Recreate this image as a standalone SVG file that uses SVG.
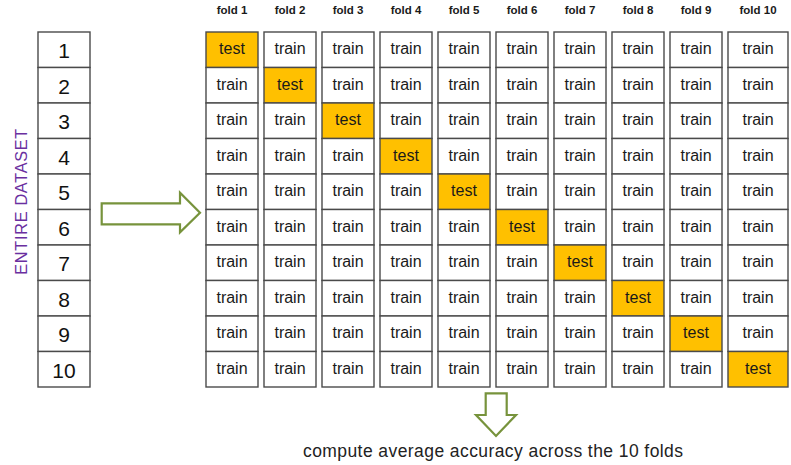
<svg xmlns="http://www.w3.org/2000/svg" width="791" height="465" viewBox="0 0 791 465">
<style>
.cell{fill:#ffffff;stroke:#4a4a4a;stroke-width:1.4}
.test{fill:#FFC000;stroke:#4a4a4a;stroke-width:1.4}
.t{font-family:"Liberation Sans",Arial,sans-serif;font-size:16px;fill:#1a1a1a;text-anchor:middle}
.n{font-family:"Liberation Sans",Arial,sans-serif;font-size:21px;fill:#111;text-anchor:middle}
.h{font-family:"Liberation Sans",Arial,sans-serif;font-size:11.5px;font-weight:bold;fill:#1a1a1a;text-anchor:middle}
.arrow{fill:#ffffff;stroke:#77933C;stroke-width:2.2;stroke-linejoin:miter}
</style>
<rect width="791" height="465" fill="#ffffff"/>
<g id="dataset">
<rect class="cell" x="38" y="32" width="52" height="35.5"/><text class="n" x="64" y="58.3">1</text>
<rect class="cell" x="38" y="67.5" width="52" height="35.5"/><text class="n" x="64" y="93.8">2</text>
<rect class="cell" x="38" y="103" width="52" height="35.5"/><text class="n" x="64" y="129.3">3</text>
<rect class="cell" x="38" y="138.5" width="52" height="35.5"/><text class="n" x="64" y="164.8">4</text>
<rect class="cell" x="38" y="174" width="52" height="35.5"/><text class="n" x="64" y="200.3">5</text>
<rect class="cell" x="38" y="209.5" width="52" height="35.5"/><text class="n" x="64" y="235.8">6</text>
<rect class="cell" x="38" y="245" width="52" height="35.5"/><text class="n" x="64" y="271.3">7</text>
<rect class="cell" x="38" y="280.5" width="52" height="35.5"/><text class="n" x="64" y="306.8">8</text>
<rect class="cell" x="38" y="316" width="52" height="35.5"/><text class="n" x="64" y="342.3">9</text>
<rect class="cell" x="38" y="351.5" width="52" height="35.5"/><text class="n" x="64" y="377.8">10</text>
</g>
<g id="dataset-label">
<text x="26.7" y="201.7" transform="rotate(-90 26.7 201.7)" font-family="Liberation Sans, Arial, sans-serif" font-size="16.3" fill="#6A2FA0" text-anchor="middle" textLength="146" lengthAdjust="spacing">ENTIRE DATASET</text>
</g>
<g id="fold1">
<text class="h" x="232" y="14">fold 1</text>
<rect class="test" x="206" y="32" width="52" height="35.5"/><text class="t" x="232" y="54.3">test</text>
<rect class="cell" x="206" y="67.5" width="52" height="35.5"/><text class="t" x="232" y="89.8">train</text>
<rect class="cell" x="206" y="103" width="52" height="35.5"/><text class="t" x="232" y="125.3">train</text>
<rect class="cell" x="206" y="138.5" width="52" height="35.5"/><text class="t" x="232" y="160.8">train</text>
<rect class="cell" x="206" y="174" width="52" height="35.5"/><text class="t" x="232" y="196.3">train</text>
<rect class="cell" x="206" y="209.5" width="52" height="35.5"/><text class="t" x="232" y="231.8">train</text>
<rect class="cell" x="206" y="245" width="52" height="35.5"/><text class="t" x="232" y="267.3">train</text>
<rect class="cell" x="206" y="280.5" width="52" height="35.5"/><text class="t" x="232" y="302.8">train</text>
<rect class="cell" x="206" y="316" width="52" height="35.5"/><text class="t" x="232" y="338.3">train</text>
<rect class="cell" x="206" y="351.5" width="52" height="35.5"/><text class="t" x="232" y="373.8">train</text>
</g>
<g id="fold2">
<text class="h" x="290" y="14">fold 2</text>
<rect class="cell" x="264" y="32" width="52" height="35.5"/><text class="t" x="290" y="54.3">train</text>
<rect class="test" x="264" y="67.5" width="52" height="35.5"/><text class="t" x="290" y="89.8">test</text>
<rect class="cell" x="264" y="103" width="52" height="35.5"/><text class="t" x="290" y="125.3">train</text>
<rect class="cell" x="264" y="138.5" width="52" height="35.5"/><text class="t" x="290" y="160.8">train</text>
<rect class="cell" x="264" y="174" width="52" height="35.5"/><text class="t" x="290" y="196.3">train</text>
<rect class="cell" x="264" y="209.5" width="52" height="35.5"/><text class="t" x="290" y="231.8">train</text>
<rect class="cell" x="264" y="245" width="52" height="35.5"/><text class="t" x="290" y="267.3">train</text>
<rect class="cell" x="264" y="280.5" width="52" height="35.5"/><text class="t" x="290" y="302.8">train</text>
<rect class="cell" x="264" y="316" width="52" height="35.5"/><text class="t" x="290" y="338.3">train</text>
<rect class="cell" x="264" y="351.5" width="52" height="35.5"/><text class="t" x="290" y="373.8">train</text>
</g>
<g id="fold3">
<text class="h" x="348" y="14">fold 3</text>
<rect class="cell" x="322" y="32" width="52" height="35.5"/><text class="t" x="348" y="54.3">train</text>
<rect class="cell" x="322" y="67.5" width="52" height="35.5"/><text class="t" x="348" y="89.8">train</text>
<rect class="test" x="322" y="103" width="52" height="35.5"/><text class="t" x="348" y="125.3">test</text>
<rect class="cell" x="322" y="138.5" width="52" height="35.5"/><text class="t" x="348" y="160.8">train</text>
<rect class="cell" x="322" y="174" width="52" height="35.5"/><text class="t" x="348" y="196.3">train</text>
<rect class="cell" x="322" y="209.5" width="52" height="35.5"/><text class="t" x="348" y="231.8">train</text>
<rect class="cell" x="322" y="245" width="52" height="35.5"/><text class="t" x="348" y="267.3">train</text>
<rect class="cell" x="322" y="280.5" width="52" height="35.5"/><text class="t" x="348" y="302.8">train</text>
<rect class="cell" x="322" y="316" width="52" height="35.5"/><text class="t" x="348" y="338.3">train</text>
<rect class="cell" x="322" y="351.5" width="52" height="35.5"/><text class="t" x="348" y="373.8">train</text>
</g>
<g id="fold4">
<text class="h" x="406" y="14">fold 4</text>
<rect class="cell" x="380" y="32" width="52" height="35.5"/><text class="t" x="406" y="54.3">train</text>
<rect class="cell" x="380" y="67.5" width="52" height="35.5"/><text class="t" x="406" y="89.8">train</text>
<rect class="cell" x="380" y="103" width="52" height="35.5"/><text class="t" x="406" y="125.3">train</text>
<rect class="test" x="380" y="138.5" width="52" height="35.5"/><text class="t" x="406" y="160.8">test</text>
<rect class="cell" x="380" y="174" width="52" height="35.5"/><text class="t" x="406" y="196.3">train</text>
<rect class="cell" x="380" y="209.5" width="52" height="35.5"/><text class="t" x="406" y="231.8">train</text>
<rect class="cell" x="380" y="245" width="52" height="35.5"/><text class="t" x="406" y="267.3">train</text>
<rect class="cell" x="380" y="280.5" width="52" height="35.5"/><text class="t" x="406" y="302.8">train</text>
<rect class="cell" x="380" y="316" width="52" height="35.5"/><text class="t" x="406" y="338.3">train</text>
<rect class="cell" x="380" y="351.5" width="52" height="35.5"/><text class="t" x="406" y="373.8">train</text>
</g>
<g id="fold5">
<text class="h" x="464" y="14">fold 5</text>
<rect class="cell" x="438" y="32" width="52" height="35.5"/><text class="t" x="464" y="54.3">train</text>
<rect class="cell" x="438" y="67.5" width="52" height="35.5"/><text class="t" x="464" y="89.8">train</text>
<rect class="cell" x="438" y="103" width="52" height="35.5"/><text class="t" x="464" y="125.3">train</text>
<rect class="cell" x="438" y="138.5" width="52" height="35.5"/><text class="t" x="464" y="160.8">train</text>
<rect class="test" x="438" y="174" width="52" height="35.5"/><text class="t" x="464" y="196.3">test</text>
<rect class="cell" x="438" y="209.5" width="52" height="35.5"/><text class="t" x="464" y="231.8">train</text>
<rect class="cell" x="438" y="245" width="52" height="35.5"/><text class="t" x="464" y="267.3">train</text>
<rect class="cell" x="438" y="280.5" width="52" height="35.5"/><text class="t" x="464" y="302.8">train</text>
<rect class="cell" x="438" y="316" width="52" height="35.5"/><text class="t" x="464" y="338.3">train</text>
<rect class="cell" x="438" y="351.5" width="52" height="35.5"/><text class="t" x="464" y="373.8">train</text>
</g>
<g id="fold6">
<text class="h" x="522" y="14">fold 6</text>
<rect class="cell" x="496" y="32" width="52" height="35.5"/><text class="t" x="522" y="54.3">train</text>
<rect class="cell" x="496" y="67.5" width="52" height="35.5"/><text class="t" x="522" y="89.8">train</text>
<rect class="cell" x="496" y="103" width="52" height="35.5"/><text class="t" x="522" y="125.3">train</text>
<rect class="cell" x="496" y="138.5" width="52" height="35.5"/><text class="t" x="522" y="160.8">train</text>
<rect class="cell" x="496" y="174" width="52" height="35.5"/><text class="t" x="522" y="196.3">train</text>
<rect class="test" x="496" y="209.5" width="52" height="35.5"/><text class="t" x="522" y="231.8">test</text>
<rect class="cell" x="496" y="245" width="52" height="35.5"/><text class="t" x="522" y="267.3">train</text>
<rect class="cell" x="496" y="280.5" width="52" height="35.5"/><text class="t" x="522" y="302.8">train</text>
<rect class="cell" x="496" y="316" width="52" height="35.5"/><text class="t" x="522" y="338.3">train</text>
<rect class="cell" x="496" y="351.5" width="52" height="35.5"/><text class="t" x="522" y="373.8">train</text>
</g>
<g id="fold7">
<text class="h" x="580" y="14">fold 7</text>
<rect class="cell" x="554" y="32" width="52" height="35.5"/><text class="t" x="580" y="54.3">train</text>
<rect class="cell" x="554" y="67.5" width="52" height="35.5"/><text class="t" x="580" y="89.8">train</text>
<rect class="cell" x="554" y="103" width="52" height="35.5"/><text class="t" x="580" y="125.3">train</text>
<rect class="cell" x="554" y="138.5" width="52" height="35.5"/><text class="t" x="580" y="160.8">train</text>
<rect class="cell" x="554" y="174" width="52" height="35.5"/><text class="t" x="580" y="196.3">train</text>
<rect class="cell" x="554" y="209.5" width="52" height="35.5"/><text class="t" x="580" y="231.8">train</text>
<rect class="test" x="554" y="245" width="52" height="35.5"/><text class="t" x="580" y="267.3">test</text>
<rect class="cell" x="554" y="280.5" width="52" height="35.5"/><text class="t" x="580" y="302.8">train</text>
<rect class="cell" x="554" y="316" width="52" height="35.5"/><text class="t" x="580" y="338.3">train</text>
<rect class="cell" x="554" y="351.5" width="52" height="35.5"/><text class="t" x="580" y="373.8">train</text>
</g>
<g id="fold8">
<text class="h" x="638" y="14">fold 8</text>
<rect class="cell" x="612" y="32" width="52" height="35.5"/><text class="t" x="638" y="54.3">train</text>
<rect class="cell" x="612" y="67.5" width="52" height="35.5"/><text class="t" x="638" y="89.8">train</text>
<rect class="cell" x="612" y="103" width="52" height="35.5"/><text class="t" x="638" y="125.3">train</text>
<rect class="cell" x="612" y="138.5" width="52" height="35.5"/><text class="t" x="638" y="160.8">train</text>
<rect class="cell" x="612" y="174" width="52" height="35.5"/><text class="t" x="638" y="196.3">train</text>
<rect class="cell" x="612" y="209.5" width="52" height="35.5"/><text class="t" x="638" y="231.8">train</text>
<rect class="cell" x="612" y="245" width="52" height="35.5"/><text class="t" x="638" y="267.3">train</text>
<rect class="test" x="612" y="280.5" width="52" height="35.5"/><text class="t" x="638" y="302.8">test</text>
<rect class="cell" x="612" y="316" width="52" height="35.5"/><text class="t" x="638" y="338.3">train</text>
<rect class="cell" x="612" y="351.5" width="52" height="35.5"/><text class="t" x="638" y="373.8">train</text>
</g>
<g id="fold9">
<text class="h" x="696" y="14">fold 9</text>
<rect class="cell" x="670" y="32" width="52" height="35.5"/><text class="t" x="696" y="54.3">train</text>
<rect class="cell" x="670" y="67.5" width="52" height="35.5"/><text class="t" x="696" y="89.8">train</text>
<rect class="cell" x="670" y="103" width="52" height="35.5"/><text class="t" x="696" y="125.3">train</text>
<rect class="cell" x="670" y="138.5" width="52" height="35.5"/><text class="t" x="696" y="160.8">train</text>
<rect class="cell" x="670" y="174" width="52" height="35.5"/><text class="t" x="696" y="196.3">train</text>
<rect class="cell" x="670" y="209.5" width="52" height="35.5"/><text class="t" x="696" y="231.8">train</text>
<rect class="cell" x="670" y="245" width="52" height="35.5"/><text class="t" x="696" y="267.3">train</text>
<rect class="cell" x="670" y="280.5" width="52" height="35.5"/><text class="t" x="696" y="302.8">train</text>
<rect class="test" x="670" y="316" width="52" height="35.5"/><text class="t" x="696" y="338.3">test</text>
<rect class="cell" x="670" y="351.5" width="52" height="35.5"/><text class="t" x="696" y="373.8">train</text>
</g>
<g id="fold10">
<text class="h" x="758" y="14">fold 10</text>
<rect class="cell" x="728" y="32" width="60" height="35.5"/><text class="t" x="758" y="54.3">train</text>
<rect class="cell" x="728" y="67.5" width="60" height="35.5"/><text class="t" x="758" y="89.8">train</text>
<rect class="cell" x="728" y="103" width="60" height="35.5"/><text class="t" x="758" y="125.3">train</text>
<rect class="cell" x="728" y="138.5" width="60" height="35.5"/><text class="t" x="758" y="160.8">train</text>
<rect class="cell" x="728" y="174" width="60" height="35.5"/><text class="t" x="758" y="196.3">train</text>
<rect class="cell" x="728" y="209.5" width="60" height="35.5"/><text class="t" x="758" y="231.8">train</text>
<rect class="cell" x="728" y="245" width="60" height="35.5"/><text class="t" x="758" y="267.3">train</text>
<rect class="cell" x="728" y="280.5" width="60" height="35.5"/><text class="t" x="758" y="302.8">train</text>
<rect class="cell" x="728" y="316" width="60" height="35.5"/><text class="t" x="758" y="338.3">train</text>
<rect class="test" x="728" y="351.5" width="60" height="35.5"/><text class="t" x="758" y="373.8">test</text>
</g>
<g id="connectors">
<path class="arrow" d="M101.7,203.3 H180 V192.7 L200,212.7 L180,232.3 V224.3 H101.7 Z"/>
<path class="arrow" d="M485.7,393.3 H506.7 V415 H516 L496,436 L476,415 H485.7 Z"/>
</g>
<g id="result">
<text x="303" y="457.3" font-family="Liberation Sans, Arial, sans-serif" font-size="17.5" fill="#222" textLength="380" lengthAdjust="spacing">compute average accuracy across the 10 folds</text>
</g>
</svg>
